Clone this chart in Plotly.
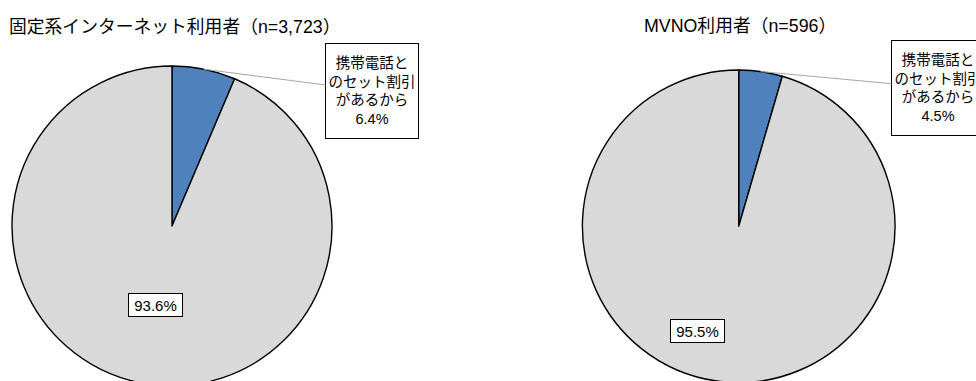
import math
import plotly.graph_objects as go

# ---- data ----
categories = ["携帯電話とのセット割引があるから", "その他"]
callout_lines = ["携帯電話と", "のセット割引", "があるから"]
fixed_values = [6.4, 93.6]
mvno_values = [4.5, 95.5]
titles = ["固定系インターネット利用者（n=3,723）", "MVNO利用者（n=596）"]
colors = ["#4F81BD", "#D9D9D9"]

W, H = 976, 390
FONT = "Liberation Sans, Arial, Noto Sans CJK JP, sans-serif"

# pie geometry in pixels (center x, center y, radius)
geoms = [(172.0, 226.0, 160.0), (738.7, 226.3, 156.3)]
# callout box centers (px) and percentage box centers (px)
callout_centers = [(372.0, 91.0), (938.0, 88.0)]
pct_centers = [(155.5, 305.0), (697.0, 330.5)]
title_pos = [(175.0, 27.5), (740.0, 26.0)]
title_sizes = [17.8, 17.8]


def px2paper(x, y):
    return x / W, 1 - y / H


fig = go.Figure()
annotations = []
for i, vals in enumerate([fixed_values, mvno_values]):
    cx, cy, r = geoms[i]
    x0, y1 = px2paper(cx - r, cy - r)
    x1, y0 = px2paper(cx + r, cy + r)
    fig.add_trace(go.Pie(
        labels=categories, values=vals, sort=False, direction="clockwise",
        rotation=0, textinfo="none", hoverinfo="label+percent",
        marker=dict(colors=colors, line=dict(color="#000000", width=1.4)),
        domain=dict(x=[x0, x1], y=[y0, y1]), showlegend=False,
    ))
    # leader point at middle of first slice
    ang = math.radians(vals[0] / sum(vals) * 360 / 2)
    px, py = cx + r * math.sin(ang), cy - r * math.cos(ang)
    bx, by = callout_centers[i]
    ax_, ay_ = px2paper(px, py)
    annotations.append(dict(
        x=ax_, y=ay_, xref="paper", yref="paper",
        text="<br>".join(callout_lines + [f"{vals[0]}%"]),
        showarrow=True, arrowhead=0, arrowwidth=1, arrowcolor="#A6A6A6",
        ax=bx - px, ay=by - py, width=90, height=92,
        bordercolor="#000000", borderwidth=1, borderpad=1, bgcolor="#FFFFFF",
        font=dict(family=FONT, size=14.5, color="#000000"), align="center",
    ))
    tx, ty = px2paper(*pct_centers[i])
    annotations.append(dict(
        x=tx, y=ty, xref="paper", yref="paper", text=f"{vals[1]}%",
        showarrow=False, width=51, height=20, bordercolor="#000000",
        borderwidth=1, borderpad=1, bgcolor="#FFFFFF",
        font=dict(family=FONT, size=15, color="#000000"),
        xanchor="center", yanchor="middle",
    ))
    ttx, tty = px2paper(*title_pos[i])
    annotations.append(dict(
        x=ttx, y=tty, xref="paper", yref="paper", text=titles[i],
        showarrow=False, xanchor="center", yanchor="middle",
        font=dict(family=FONT, size=title_sizes[i], color="#000000"),
    ))

fig.update_layout(
    width=W, height=H, margin=dict(l=0, r=0, t=0, b=0),
    paper_bgcolor="#FFFFFF", plot_bgcolor="#FFFFFF",
    annotations=annotations,
)

fig.write_html(
    "out.html",
    config={"displayModeBar": False},
    post_script="document.documentElement.style.overflow='hidden';document.body.style.overflow='hidden';document.body.style.margin='0';",
)
